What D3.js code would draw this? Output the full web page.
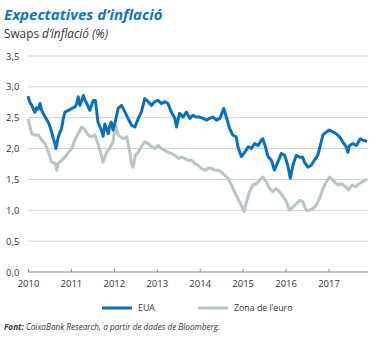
<!DOCTYPE html>
<html><head><meta charset="utf-8">
<script src="https://cdn.jsdelivr.net/npm/d3@7/dist/d3.min.js"></script>
<style>body{margin:0;background:#fff}svg{display:block}</style>
</head><body><div id="chart"></div>
<script>
const yearTicks = [2010,2011,2012,2013,2014,2015,2016,2017];
const yTicks = [0,0.5,1,1.5,2,2.5,3,3.5];
const seriesNames = ["EUA","Zona de l\u2019euro"];

const usDates = [2010.00,2010.02,2010.05,2010.09,2010.12,2010.16,2010.20,2010.24,2010.28,2010.32,2010.36,2010.40,2010.47,2010.51,2010.55,2010.59,2010.63,2010.65,2010.70,2010.74,2010.78,2010.82,2010.86,2010.94,2011.02,2011.09,2011.13,2011.17,2011.21,2011.25,2011.29,2011.33,2011.37,2011.44,2011.48,2011.52,2011.57,2011.63,2011.67,2011.71,2011.75,2011.79,2011.83,2011.87,2011.90,2011.94,2011.98,2012.02,2012.10,2012.18,2012.26,2012.33,2012.41,2012.49,2012.57,2012.64,2012.72,2012.80,2012.88,2012.95,2013.03,2013.11,2013.19,2013.26,2013.34,2013.42,2013.46,2013.53,2013.61,2013.69,2013.77,2013.84,2013.92,2014.00,2014.08,2014.16,2014.23,2014.31,2014.39,2014.47,2014.56,2014.62,2014.70,2014.77,2014.85,2014.89,2014.97,2015.05,2015.13,2015.20,2015.28,2015.36,2015.43,2015.47,2015.53,2015.59,2015.67,2015.74,2015.82,2015.90,2015.98,2016.05,2016.11,2016.17,2016.25,2016.33,2016.40,2016.44,2016.52,2016.60,2016.67,2016.75,2016.83,2016.87,2016.95,2017.02,2017.10,2017.18,2017.26,2017.33,2017.41,2017.45,2017.49,2017.57,2017.65,2017.74,2017.82,2017.90];
const usValues = [2.85,2.80,2.74,2.70,2.64,2.59,2.66,2.64,2.73,2.62,2.56,2.51,2.43,2.36,2.27,2.16,2.08,2.00,2.17,2.26,2.32,2.48,2.59,2.62,2.65,2.67,2.72,2.84,2.70,2.78,2.86,2.78,2.73,2.62,2.70,2.78,2.78,2.43,2.36,2.30,2.20,2.40,2.32,2.24,2.36,2.43,2.30,2.40,2.65,2.70,2.59,2.49,2.38,2.35,2.49,2.59,2.81,2.76,2.70,2.76,2.78,2.73,2.76,2.73,2.59,2.49,2.35,2.57,2.51,2.59,2.49,2.54,2.51,2.51,2.49,2.46,2.49,2.51,2.46,2.49,2.65,2.51,2.32,2.22,2.19,2.03,1.87,1.94,2.03,2.00,2.08,2.05,2.13,2.16,2.03,1.87,1.81,1.65,1.78,1.92,1.89,1.73,1.52,1.73,1.89,1.86,1.86,1.78,1.70,1.73,1.81,1.89,2.11,2.22,2.27,2.30,2.27,2.24,2.19,2.11,2.03,1.94,2.05,2.08,2.05,2.16,2.13,2.12];

const euDates = [2010.00,2010.09,2010.16,2010.24,2010.32,2010.40,2010.47,2010.55,2010.63,2010.67,2010.70,2010.78,2010.86,2010.94,2011.02,2011.09,2011.17,2011.25,2011.33,2011.40,2011.48,2011.56,2011.63,2011.71,2011.75,2011.83,2011.90,2011.98,2012.02,2012.04,2012.10,2012.22,2012.30,2012.37,2012.41,2012.45,2012.50,2012.57,2012.64,2012.72,2012.80,2012.88,2012.95,2013.03,2013.11,2013.19,2013.26,2013.34,2013.42,2013.50,2013.57,2013.65,2013.73,2013.81,2013.88,2013.96,2014.04,2014.12,2014.20,2014.27,2014.35,2014.43,2014.50,2014.58,2014.66,2014.74,2014.81,2014.89,2014.97,2015.03,2015.09,2015.16,2015.24,2015.32,2015.40,2015.47,2015.55,2015.63,2015.70,2015.78,2015.86,2015.94,2016.02,2016.09,2016.17,2016.25,2016.33,2016.40,2016.48,2016.56,2016.64,2016.71,2016.79,2016.87,2016.95,2017.02,2017.06,2017.14,2017.22,2017.30,2017.40,2017.47,2017.55,2017.63,2017.71,2017.78,2017.86,2017.90];
const euValues = [2.48,2.24,2.22,2.22,2.14,2.08,1.95,1.78,1.76,1.65,1.76,1.81,1.86,1.94,2.00,2.14,2.24,2.35,2.30,2.22,2.19,2.22,2.08,1.89,1.78,1.94,2.00,2.11,2.30,2.38,2.22,2.16,2.19,1.94,1.76,1.70,1.89,1.94,2.03,2.11,2.08,2.03,2.00,2.05,2.00,1.97,1.94,1.92,1.89,1.84,1.86,1.84,1.81,1.81,1.76,1.73,1.68,1.65,1.68,1.68,1.65,1.65,1.62,1.57,1.52,1.41,1.30,1.19,1.08,0.98,1.14,1.30,1.41,1.43,1.49,1.54,1.46,1.35,1.30,1.35,1.30,1.22,1.14,1.00,1.05,1.11,1.16,1.14,1.00,1.00,1.03,1.08,1.19,1.35,1.46,1.54,1.52,1.46,1.41,1.43,1.38,1.33,1.41,1.38,1.43,1.46,1.49,1.50];

const W = 378, H = 338;
const svg = d3.select("#chart").append("svg").attr("width",W).attr("height",H);

const x = d3.scaleLinear().domain([2010, 2017.92]).range([28, 368]);
const y = d3.scaleLinear().domain([0, 3.5]).range([272, 56]);

const blue = "#0a71b8", grey = "#b8c4c7";
const font = "'Open Sans', 'Noto Sans', sans-serif";

// title
svg.append("text").attr("x",4).attr("y",20).attr("fill","#1474bd")
  .attr("font-family",font).attr("font-size",15).attr("font-weight",700).attr("font-style","italic")
  .text("Expectatives d\u2019inflació");
const sub = svg.append("text").attr("x",4).attr("y",38).attr("fill","#333")
  .attr("font-family",font).attr("font-size",11.8);
sub.append("tspan").text("Swaps ");
sub.append("tspan").attr("font-style","italic").text("d\u2019inflació (%)");

// grid
svg.append("g").selectAll("line").data(yTicks.filter(d=>d>0)).join("line")
  .attr("x1",28).attr("x2",368).attr("y1",d=>y(d)).attr("y2",d=>y(d))
  .attr("stroke","#cfcfcf").attr("stroke-width",1);

// y labels
svg.append("g").selectAll("text").data(yTicks).join("text")
  .attr("x",6).attr("y",d=>y(d)+3.5).attr("fill","#333")
  .attr("font-family",font).attr("font-size",9.5)
  .text(d=>d3.format(".1f")(d).replace(".",","));

// x axis
const xAxis = d3.axisBottom(x).tickValues(yearTicks).tickFormat(d3.format("d")).tickSize(-3).tickPadding(8);
const gx = svg.append("g").attr("transform","translate(0,272)").call(xAxis);
gx.select(".domain").attr("stroke","#888").attr("d","M28,0H368");
gx.selectAll(".tick line").attr("stroke","#888");
gx.selectAll(".tick text").attr("fill","#333").attr("font-family",font).attr("font-size",9.5);

// lines
const line = d3.line().x(d=>x(d[0])).y(d=>y(d[1]));
svg.append("path").datum(d3.zip(euDates, euValues)).attr("d",line)
  .attr("fill","none").attr("stroke",grey).attr("stroke-width",3).attr("stroke-linejoin","round");
svg.append("path").datum(d3.zip(usDates, usValues)).attr("d",line)
  .attr("fill","none").attr("stroke",blue).attr("stroke-width",3).attr("stroke-linejoin","round");

// legend
const lg = svg.append("g");
[[102,blue,seriesNames[0]],[198,grey,seriesNames[1]]].forEach(([lx,c,t])=>{
  lg.append("line").attr("x1",lx).attr("x2",lx+30).attr("y1",308).attr("y2",308).attr("stroke",c).attr("stroke-width",3);
  lg.append("text").attr("x",lx+36).attr("y",311).attr("fill","#333").attr("font-family",font).attr("font-size",8.8).text(t);
});

// source
const src = svg.append("text").attr("x",4).attr("y",330).attr("fill","#333")
  .attr("font-family",font).attr("font-size",8.2).attr("font-style","italic");
src.append("tspan").attr("font-weight",700).text("Font: ");
src.append("tspan").text("CaixaBank Research, a partir de dades de Bloomberg.");
</script></body></html>
